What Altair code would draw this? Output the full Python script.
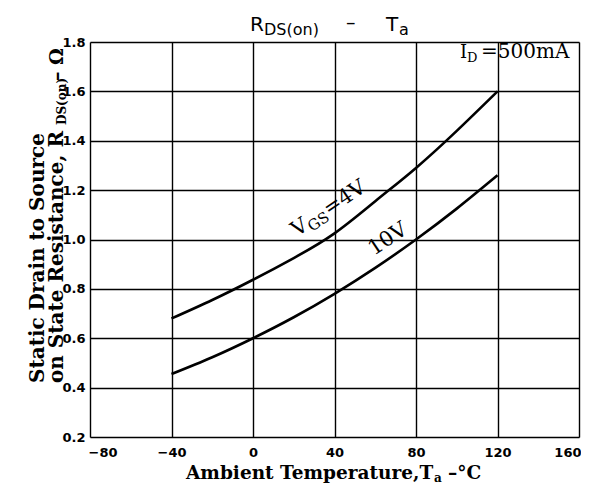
import altair as alt
import pandas as pd

# ---- data ----
temps = [-40, -20, 0, 20, 40, 60, 80, 100, 120]
r_vgs4 = [0.68, 0.755, 0.837, 0.925, 1.025, 1.155, 1.29, 1.44, 1.60]
r_vgs10 = [0.455, 0.523, 0.60, 0.685, 0.78, 0.885, 1.00, 1.125, 1.26]
x_ticks = [-80, -40, 0, 40, 80, 120, 160]
y_ticks = [0.2, 0.4, 0.6, 0.8, 1.0, 1.2, 1.4, 1.6, 1.8]

df = pd.DataFrame({
    "Ta": temps + temps,
    "R": r_vgs4 + r_vgs10,
    "series": ["4V"] * len(temps) + ["10V"] * len(temps),
})

W, H = 489, 395
SERIF = "DejaVu Serif"
SANS = "DejaVu Sans"

x = alt.X("Ta:Q", scale=alt.Scale(domain=[-80, 160], nice=False, zero=False),
          axis=alt.Axis(values=x_ticks, title=None, grid=True, gridColor="#000",
                        gridWidth=1.4, gridOpacity=1, domain=False, ticks=False,
                        labelFont=SANS, labelFontWeight="bold", labelFontSize=13,
                        labelColor="#000", labelPadding=9, labelFlush=True,
                        labelFlushOffset=2))
y = alt.Y("R:Q", scale=alt.Scale(domain=[0.2, 1.8], nice=False, zero=False),
          axis=alt.Axis(values=y_ticks, format=".1f", title=None, grid=True,
                        gridColor="#000", gridWidth=1.4, gridOpacity=1,
                        domain=False, ticks=False, labelFont=SANS,
                        labelFontWeight="bold", labelFontSize=13,
                        labelColor="#000", labelPadding=5))

lines = alt.Chart(df).mark_line(color="#000", strokeWidth=2.6,
                                interpolate="natural").encode(
    x=x, y=y, detail="series:N")


def label(text, px, py, size, font=SERIF, angle=0, align="left",
          baseline="alphabetic", weight="normal"):
    return alt.Chart(alt.Data(values=[{"k": 0}])).mark_text(
        text=text, font=font, fontSize=size, fontWeight=weight, angle=angle,
        align=align, baseline=baseline, color="#000").encode(
        x=alt.value(px), y=alt.value(py))


texts = [
    # title
    label("R", 160, -11, 20, font=SANS),
    label("DS(on)", 174, -7, 16, font=SANS),
    label("\u2013", 256, -13, 19, font=SANS),
    label("T", 296, -11, 20, font=SANS),
    label("a", 309, -7, 16, font=SANS),
    # I_D annotation
    label("I", 370, 16, 18),
    label("D", 377, 20, 13),
    label("=500mA", 391, 16, 20),
    # curve labels
    label("V", 207, 195, 21, angle=326),
    label("GS", 222, 190, 15, angle=326),
    label("=4V", 239, 174, 21, angle=326),
    label("10V", 284, 214, 21, angle=326),
    # x title
    label("Ambient Temperature,T", 96, 437, 18.5, weight="bold"),
    label("a", 344, 440, 12, weight="bold"),
    label("\u2013\u00b0C", 358, 437, 18.5, weight="bold"),
    # y title (rotated)
    label("Static Drain to Source", -46, 341, 20, angle=270, weight="bold"),
    label("on State Resistance, R", -27, 341, 20, angle=270, weight="bold"),
    label("DS(on)", -24, 83, 12, angle=270, weight="bold"),
    label("\u2013 \u03a9", -27, 39, 19, angle=270, weight="bold"),
]

chart = alt.layer(lines, *texts).properties(
    width=W, height=H,
    autosize=alt.AutoSizeParams(type="none"),
    padding={"left": 82, "top": 34, "right": 2, "bottom": 47},
).configure_view(stroke="#000", strokeWidth=2.2).configure(background="#fff")

chart.save("out.html", embed_options={"renderer": "svg", "actions": False})
